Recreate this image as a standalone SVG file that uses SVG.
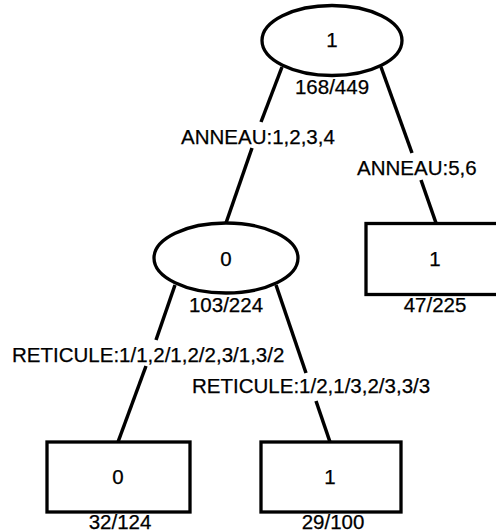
<svg xmlns="http://www.w3.org/2000/svg" width="496" height="532" viewBox="0 0 496 532">
<style>
.shape{fill:#fff;stroke:#000;stroke-width:3.3}
.edge{stroke:#000;stroke-width:3.5;fill:none}
text{font-family:"Liberation Sans",Arial,sans-serif;font-size:20.5px;fill:#000;stroke:#000;stroke-width:0.25}
.c{text-anchor:middle}
</style>
<rect width="496" height="532" fill="#fff"/>
<g id="connectors">
<line class="edge" x1="282" y1="67" x2="261" y2="122"/>
<line class="edge" x1="252" y1="148" x2="226" y2="223"/>
<line class="edge" x1="381" y1="67" x2="412" y2="153"/>
<line class="edge" x1="421" y1="180" x2="436" y2="223"/>
<line class="edge" x1="175" y1="285" x2="156" y2="340"/>
<line class="edge" x1="146" y1="366" x2="118" y2="442"/>
<line class="edge" x1="276" y1="285" x2="306" y2="373"/>
<line class="edge" x1="316" y1="401" x2="330" y2="442"/>
<text x="181" y="144">ANNEAU:1,2,3,4</text>
<text x="357" y="175">ANNEAU:5,6</text>
<text x="12" y="362">RETICULE:1/1,2/1,2/2,3/1,3/2</text>
<text x="192" y="393">RETICULE:1/2,1/3,2/3,3/3</text>
</g>
<g id="n_root">
<ellipse class="shape" cx="332" cy="40.5" rx="70" ry="35"/>
<text class="c" x="332" y="47">1</text>
<text class="c" x="332" y="94">168/449</text>
</g>
<g id="n_anneau1234">
<ellipse class="shape" cx="226" cy="258" rx="72" ry="35"/>
<text class="c" x="226" y="266">0</text>
<text class="c" x="226" y="312">103/224</text>
</g>
<g id="n_anneau56">
<rect class="shape" x="366" y="223.5" width="142" height="71"/>
<text class="c" x="435" y="266">1</text>
<text class="c" x="435" y="312">47/225</text>
</g>
<g id="n_ret_a">
<rect class="shape" x="47" y="442" width="143" height="70"/>
<text class="c" x="118" y="484">0</text>
<text class="c" x="120" y="529">32/124</text>
</g>
<g id="n_ret_b">
<rect class="shape" x="261" y="442" width="140" height="70"/>
<text class="c" x="330" y="484">1</text>
<text class="c" x="333" y="529">29/100</text>
</g>
</svg>
